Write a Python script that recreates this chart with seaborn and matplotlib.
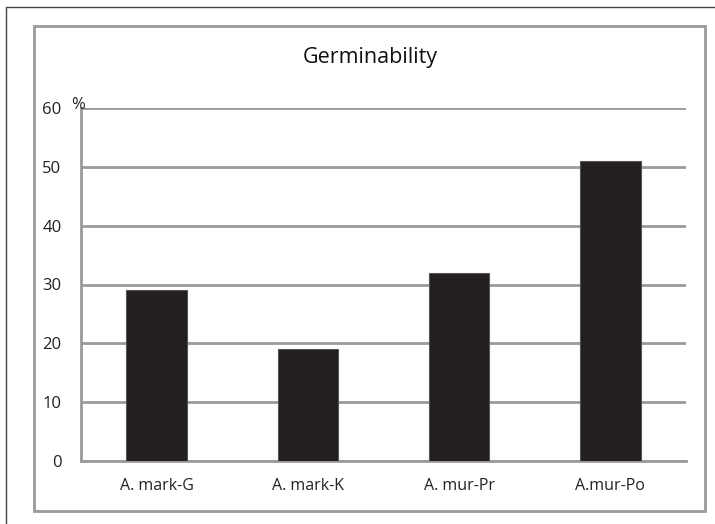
import matplotlib
matplotlib.use("Agg")
import matplotlib.pyplot as plt
import seaborn as sns
import pandas as pd
from matplotlib.patches import Rectangle
from matplotlib.lines import Line2D

# data
categories = ["A. mark-G", "A. mark-K", "A. mur-Pr", "A.mur-Po"]
germ = [29, 19, 32, 51]
yticks = [0, 10, 20, 30, 40, 50, 60]

df = pd.DataFrame({"sample": categories, "germ": germ})

sns.set_style("white")
plt.rcParams["font.family"] = ["Open Sans", "DejaVu Sans"]

fig = plt.figure(figsize=(7.15, 5.24), dpi=100)
W, H = 715, 524
ax = fig.add_axes([81 / W, 1 - 461 / H, (686 - 81) / W, (461 - 108) / H])

grid_c = "#9a9a9a"
sns.barplot(data=df, x="sample", y="germ", color="#231f20", width=0.4,
            edgecolor="#555555", linewidth=0.8, saturation=1, ax=ax, zorder=3)

ax.set_ylim(0, 60)
ax.set_xlim(-0.5, 3.5)
ax.set_yticks(yticks)
ax.set_yticklabels([str(v) for v in yticks], fontsize=12, color="#222222")
ax.yaxis.grid(True, color=grid_c, linewidth=2)
ax.set_axisbelow(True)
ax.set_xlabel("")
ax.set_ylabel("")

# category boundary ticks on x axis
ax.set_xticks([-0.5, 0.5, 1.5, 2.5, 3.5], minor=False)
ax.set_xticklabels([])
ax.set_xticks(range(len(categories)), minor=True)
ax.set_xticklabels(categories, minor=True, fontsize=11.5, color="#222222")
ax.tick_params(axis="x", which="major", direction="out", length=6, width=2, color=grid_c)
ax.tick_params(axis="x", which="minor", length=0, pad=12)
ax.tick_params(axis="y", direction="out", length=5, width=2, color=grid_c, pad=9)

for s in ["top", "right"]:
    ax.spines[s].set_visible(False)
for s in ["left", "bottom"]:
    ax.spines[s].set_color(grid_c)
    ax.spines[s].set_linewidth(2)

fig.text(78 / W, 1 - 105 / H, "%", ha="center", va="center",
         fontsize=12, color="#222222")

fig.text(370 / W, 1 - 57 / H, "Germinability", ha="center", va="center",
         fontsize=15.5, color="#111111")

# chart frame and outer border
fig.patches.append(Rectangle((34 / W, 1 - 511 / H), (705 - 34) / W, (511 - 26) / H,
                             transform=fig.transFigure, fill=False,
                             edgecolor=grid_c, linewidth=2))
fig.lines.append(Line2D([6 / W, 6 / W], [0, 1 - 7 / H], transform=fig.transFigure,
                        color="#444444", linewidth=1))
fig.lines.append(Line2D([6 / W, 1], [1 - 7 / H, 1 - 7 / H], transform=fig.transFigure,
                        color="#444444", linewidth=1))

fig.savefig("out.png", dpi=100)
